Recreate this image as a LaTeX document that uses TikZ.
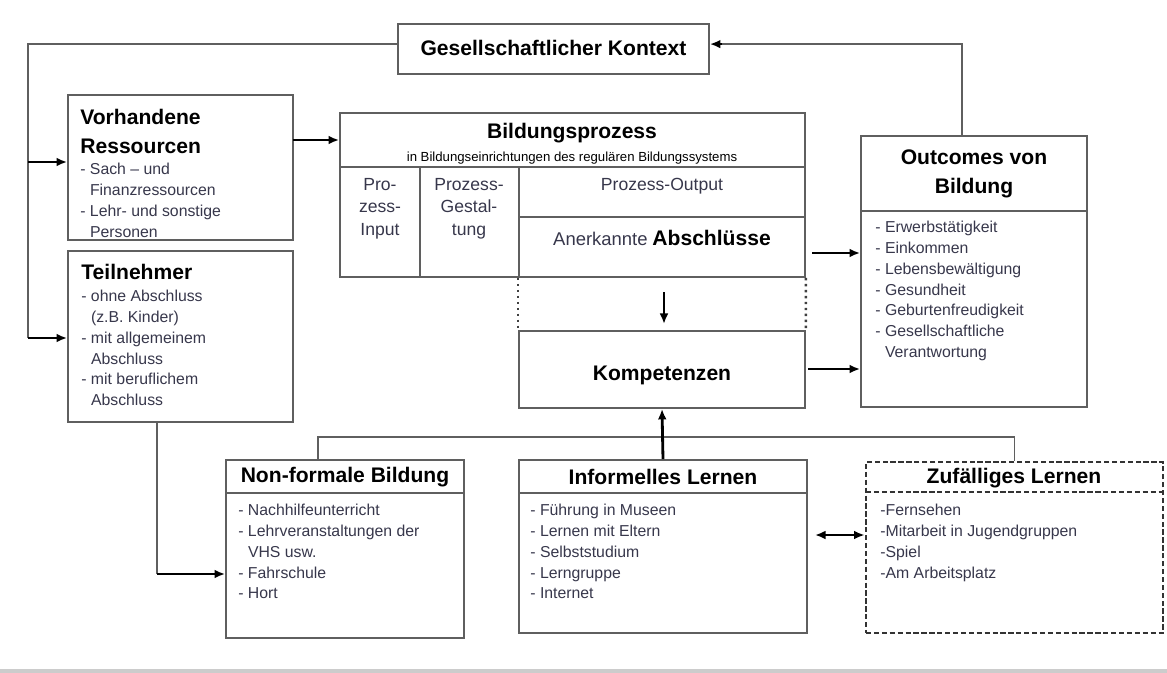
\documentclass[tikz,border=0pt]{standalone}
\usepackage{fontspec}
\setmainfont{Liberation Sans}
\definecolor{rahmengrau}{RGB}{95, 95, 95}
\definecolor{schriftgrau}{RGB}{55, 55, 75}
\usetikzlibrary{positioning,shapes,arrows.meta,calc,fit}

\begin{document}
\begin{tikzpicture}[x=0.02cm, y=-0.02cm,
    kasten/.style={draw=rahmengrau, line width=1pt, inner sep=0pt},
    linie/.style={draw=rahmengrau, line width=1.1pt},
    pfeil/.style={-{Latex[length=6pt,width=5pt]}, line width=1.6pt, black},
    gestrichelt/.style={draw=black!80, dash pattern=on 3pt off 1.5pt, line width=1.5pt},
    titel/.style={inner sep=0pt, align=center, font=\fontsize{12}{16.5}\selectfont\bfseries},
    spalte/.style={anchor=north, inner sep=0pt, align=center, text=schriftgrau, font=\fontsize{10}{12.8}\selectfont},
    liste/.style={anchor=north west, inner sep=0pt, align=left, text=schriftgrau, font=\fontsize{9}{11.8}\selectfont}]
    \useasboundingbox (0,0) rectangle (1167,673);

    % Kontext oben
    \node[kasten, fit={(398,24) (709,74)}] (kontext) {};
    \node[titel] (kontexttitel) at (553.5,48) {Gesellschaftlicher Kontext};

    % linke Spalte
    \node[kasten, fit={(68,95) (293,240)}] (ressourcen) {};
    \node[titel, anchor=north west, align=left] (ressourcentitel) at (80,109) {Vorhandene\\Ressourcen};
    \node[liste] (ressourcenliste) at (80,163) {- Sach -- und\\\phantom{- }Finanzressourcen\\- Lehr- und sonstige\\\phantom{- }Personen};

    \node[kasten, fit={(68,251) (293,422)}] (teilnehmer) {};
    \node[titel, anchor=north west] (teilnehmertitel) at (81,264) {Teilnehmer};
    \node[liste] (teilnehmerliste) at (81,290) {- ohne Abschluss\\\phantom{- }(z.B. Kinder)\\- mit allgemeinem\\\phantom{- }Abschluss\\- mit beruflichem\\\phantom{- }Abschluss};

    % Bildungsprozess
    \node[kasten, fit={(340,113) (805,277)}] (bildung) {};
    \node[titel] (bildungtitel) at (572,133) {Bildungsprozess};
    \node[inner sep=0pt, font=\fontsize{7.5}{9}\selectfont] (bildungsub) at (572,158) {in Bildungseinrichtungen des regulären Bildungssystems};
    \draw[linie] (340,167) -- (805,167);
    \draw[linie] (420,167) -- (420,277);
    \draw[linie] (519,167) -- (519,277);
    \draw[linie] (519,217) -- (805,217);
    \node[spalte] (input) at (380,178) {Pro-\\zess-\\Input};
    \node[spalte] (gestaltung) at (469,178) {Prozess-\\Gestal-\\tung};
    \node[inner sep=0pt, text=schriftgrau, font=\fontsize{10}{12}\selectfont] (output) at (662,186) {Prozess-Output};
    \node[inner sep=0pt] (abschluesse) at (662,238) {{\fontsize{10.5}{12}\selectfont\color{schriftgrau}Anerkannte} {\fontsize{12}{14}\selectfont\bfseries Abschlüsse}};

    % Kompetenzen
    \node[kasten, fit={(519,331) (805,408)}] (kompetenzen) {};
    \node[titel] (kompetenzentitel) at (662,375) {Kompetenzen};
    \draw[black!75, line width=1.4pt, dotted] (kompetenzen.north west |- bildung.south) -- (kompetenzen.north west);
    \draw[black!75, line width=1.4pt, dotted] (bildung.south east) -- (kompetenzen.north east);
    \coordinate (pfeiloben) at (664,292);
    \coordinate (pfeilunten) at (664,324);
    \draw[pfeil] (pfeiloben) -- (pfeilunten);

    % Outcomes
    \node[kasten, fit={(861,136) (1087,407)}] (outcomes) {};
    \draw[linie] (861,211) -- (1087,211);
    \node[titel] (outcomestitel) at (974,174) {Outcomes von\\Bildung};
    \node[liste] (outcomesliste) at (875,221) {- Erwerbstätigkeit\\- Einkommen\\- Lebensbewältigung\\- Gesundheit\\- Geburtenfreudigkeit\\- Gesellschaftliche\\\phantom{- }Verantwortung};

    % untere Reihe
    \node[kasten, fit={(226,460) (464,638)}] (nonformal) {};
    \draw[linie] (226,493) -- (464,493);
    \node[titel] (nonformaltitel) at (345,477) {Non-formale Bildung};
    \node[liste] (nonformalliste) at (238,504) {- Nachhilfeunterricht\\- Lehrveranstaltungen der\\\phantom{- }VHS usw.\\- Fahrschule\\- Hort};

    \node[kasten, fit={(519,460) (807,633)}] (informell) {};
    \draw[linie] (519,493) -- (807,493);
    \node[titel] (informelltitel) at (663,477) {Informelles Lernen};
    \node[liste] (informellliste) at (530,504) {- Führung in Museen\\- Lernen mit Eltern\\- Selbststudium\\- Lerngruppe\\- Internet};

    \node[gestrichelt, inner sep=0pt, fit={(866,462) (1163,633)}] (zufall) {};
    \draw[gestrichelt] (866,492) -- (1163,492);
    \node[titel] (zufalltitel) at (1014,478) {Zufälliges Lernen};
    \node[liste] (zufallliste) at (880,504) {-Fernsehen\\-Mitarbeit in Jugendgruppen\\-Spiel\\-Am Arbeitsplatz};

    % Verbindungen
    \coordinate (links) at (28,338);
    \coordinate (lr) at (28,162);
    \draw[linie] ([yshift=2.8pt]kontext.west) -| (links);
    \draw[pfeil] (lr) -- (lr -| ressourcen.west);
    \draw[pfeil] (links) -- (links -| teilnehmer.west);
    \draw[linie] ([xshift=-6.8pt]outcomes.north) |- ([yshift=2.8pt,xshift=6pt]kontext.east);
    \draw[pfeil] ([yshift=2.8pt,xshift=7pt]kontext.east) -- ([yshift=2.8pt]kontext.east);
    \coordinate (rb) at (293,140);
    \draw[pfeil] (rb) -- (rb -| bildung.west);
    \coordinate (bo) at (812,253);
    \draw[pfeil] (bo) -- (bo -| outcomes.west);
    \coordinate (ko) at (808,369);
    \draw[pfeil] (ko) -- (ko -| outcomes.west);
    \coordinate (tn) at (157,422);
    \coordinate (tnunten) at (157,574);
    \draw[linie] (tn) -- (tnunten);
    \draw[pfeil] (tnunten) -- (tnunten -| nonformal.west);
    \coordinate (schiene) at (318,437);
    \draw[linie] (nonformal.north -| schiene) |- (zufall.north |- schiene) -- (zufall.north);
    \draw[pfeil] (informell.north) -- (kompetenzen.south);
    \coordinate (iz) at (815,535);
    \draw[pfeil, {Latex[length=6pt,width=5pt]}-{Latex[length=6pt,width=5pt]}] (iz) -- (iz -| zufall.west);

    \draw[gray!40, line width=2pt] (0,671) -- (1167,671);
\end{tikzpicture}
\end{document}
